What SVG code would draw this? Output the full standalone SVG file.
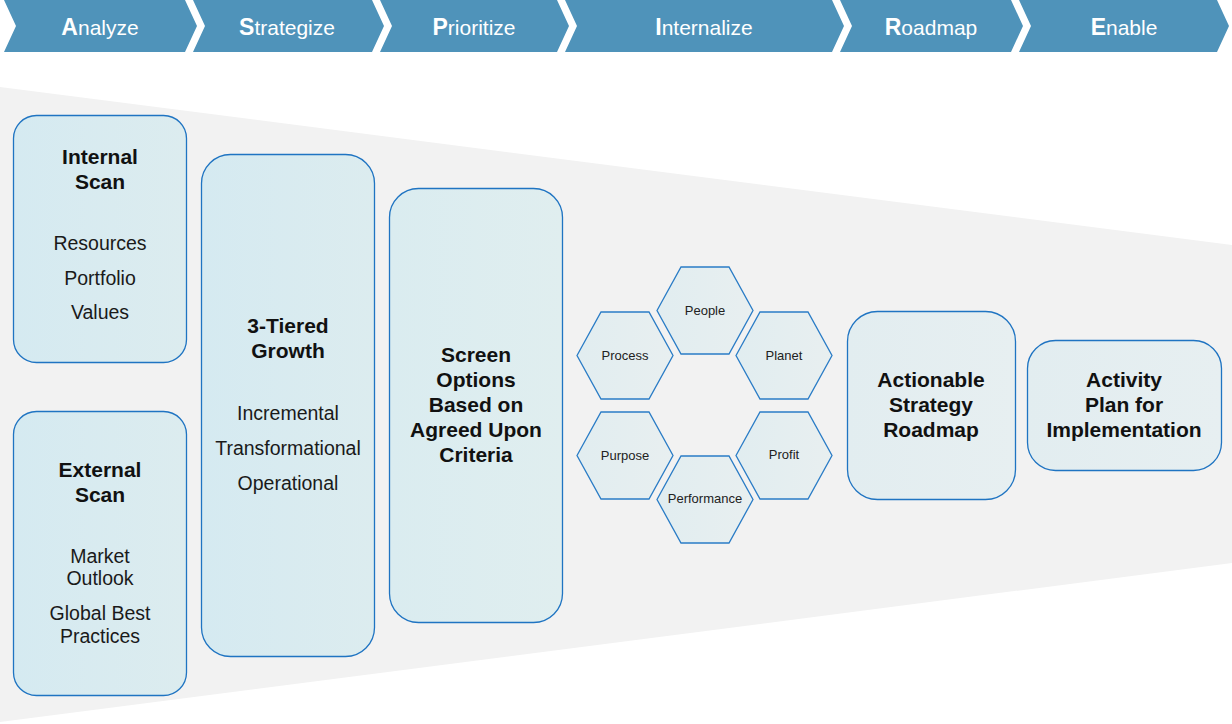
<svg xmlns="http://www.w3.org/2000/svg" width="1232" height="724" viewBox="0 0 1232 724">
<defs>
<linearGradient id="gBlue" x1="0" y1="0" x2="1" y2="0">
<stop offset="0" stop-color="#D5EAF1"/><stop offset="1" stop-color="#DCECEF"/>
</linearGradient>
<linearGradient id="gMid" x1="0" y1="0" x2="1" y2="0">
<stop offset="0" stop-color="#DAECF0"/><stop offset="1" stop-color="#E0EEEF"/>
</linearGradient>
<linearGradient id="gPale" x1="0" y1="0" x2="1" y2="0">
<stop offset="0" stop-color="#E2EDF0"/><stop offset="1" stop-color="#E7EFF1"/>
</linearGradient>
<linearGradient id="gHex" x1="0" y1="0" x2="1" y2="0">
<stop offset="0" stop-color="#E1EDF0"/><stop offset="1" stop-color="#E8EFF0"/>
</linearGradient>
<style>
.chev{fill:#4F93BA}
.hl{font-family:"Liberation Sans",Arial,sans-serif;fill:#FFFFFF;text-anchor:middle}
.hb{font-weight:bold;font-size:23px}
.hr{font-size:21px}
.box{stroke:#1F74C2;stroke-width:1.3}
.hex{fill:url(#gHex);stroke:#2A7CC6;stroke-width:1.3}
.t{font-family:"Liberation Sans",Arial,sans-serif;fill:#111111;text-anchor:middle}
.tb{font-weight:bold;font-size:21px}
.tr{font-size:19.5px;fill:#1A1A1A}
.ts{font-size:13px;fill:#222222}
</style>
</defs>
<rect width="1232" height="724" fill="#FFFFFF"/>
<polygon points="0,87 1232,245 1232,563 0,722" fill="#F2F2F2"/>

<g id="header">
<polygon class="chev" points="4,0 185,0 197,26 185,52 4,52 16,26"/>
<polygon class="chev" points="193,0 372,0 384,26 372,52 193,52 205,26"/>
<polygon class="chev" points="380,0 557,0 569,26 557,52 380,52 392,26"/>
<polygon class="chev" points="565,0 832,0 844,26 832,52 565,52 577,26"/>
<polygon class="chev" points="840,0 1011,0 1023,26 1011,52 840,52 852,26"/>
<polygon class="chev" points="1019,0 1217,0 1229,26 1217,52 1019,52 1031,26"/>
<text class="hl" x="100" y="34.5"><tspan class="hb">A</tspan><tspan class="hr">nalyze</tspan></text>
<text class="hl" x="287" y="34.5"><tspan class="hb">S</tspan><tspan class="hr">trategize</tspan></text>
<text class="hl" x="474" y="34.5"><tspan class="hb">P</tspan><tspan class="hr">rioritize</tspan></text>
<text class="hl" x="704" y="34.5"><tspan class="hb">I</tspan><tspan class="hr">nternalize</tspan></text>
<text class="hl" x="931" y="34.5"><tspan class="hb">R</tspan><tspan class="hr">oadmap</tspan></text>
<text class="hl" x="1124" y="34.5"><tspan class="hb">E</tspan><tspan class="hr">nable</tspan></text>
</g>

<g id="connectors"></g>

<g id="internal-scan">
<rect class="box" x="13.5" y="115.5" width="173" height="247" rx="23" fill="url(#gBlue)"/>
<text class="t tb" x="100" y="164">Internal</text>
<text class="t tb" x="100" y="189">Scan</text>
<text class="t tr" x="100" y="250">Resources</text>
<text class="t tr" x="100" y="284.5">Portfolio</text>
<text class="t tr" x="100" y="319">Values</text>
</g>

<g id="external-scan">
<rect class="box" x="13.5" y="411.5" width="173" height="284" rx="23" fill="url(#gBlue)"/>
<text class="t tb" x="100" y="477">External</text>
<text class="t tb" x="100" y="502">Scan</text>
<text class="t tr" x="100" y="563">Market</text>
<text class="t tr" x="100" y="585">Outlook</text>
<text class="t tr" x="100" y="620">Global Best</text>
<text class="t tr" x="100" y="643">Practices</text>
</g>

<g id="three-tiered-growth">
<rect class="box" x="201.5" y="154.5" width="173" height="502" rx="29" fill="url(#gBlue)"/>
<text class="t tb" x="288" y="333">3-Tiered</text>
<text class="t tb" x="288" y="358">Growth</text>
<text class="t tr" x="288" y="420">Incremental</text>
<text class="t tr" x="288" y="455">Transformational</text>
<text class="t tr" x="288" y="490">Operational</text>
</g>

<g id="screen-options">
<rect class="box" x="389.5" y="188.5" width="173" height="434" rx="29" fill="url(#gMid)"/>
<text class="t tb" x="476" y="362">Screen</text>
<text class="t tb" x="476" y="387">Options</text>
<text class="t tb" x="476" y="412">Based on</text>
<text class="t tb" x="476" y="437">Agreed Upon</text>
<text class="t tb" x="476" y="462">Criteria</text>
</g>

<g id="hex-people">
<polygon class="hex" points="657,310.5 681,267 729,267 753,310.5 729,354 681,354"/>
<text class="t ts" x="705" y="315">People</text>
</g>
<g id="hex-process">
<polygon class="hex" points="577,355.5 601,312 649,312 673,355.5 649,399 601,399"/>
<text class="t ts" x="625" y="360">Process</text>
</g>
<g id="hex-planet">
<polygon class="hex" points="736,355.5 760,312 808,312 832,355.5 808,399 760,399"/>
<text class="t ts" x="784" y="360">Planet</text>
</g>
<g id="hex-purpose">
<polygon class="hex" points="577,455.5 601,412 649,412 673,455.5 649,499 601,499"/>
<text class="t ts" x="625" y="460">Purpose</text>
</g>
<g id="hex-profit">
<polygon class="hex" points="736,455.5 760,412 808,412 832,455.5 808,499 760,499"/>
<text class="t ts" x="784" y="459">Profit</text>
</g>
<g id="hex-performance">
<polygon class="hex" points="657,499.5 681,456 729,456 753,499.5 729,543 681,543"/>
<text class="t ts" x="705" y="503">Performance</text>
</g>

<g id="actionable-roadmap">
<rect class="box" x="847.5" y="311.5" width="168" height="188" rx="30" fill="url(#gPale)"/>
<text class="t tb" x="931" y="387">Actionable</text>
<text class="t tb" x="931" y="412">Strategy</text>
<text class="t tb" x="931" y="437">Roadmap</text>
</g>

<g id="activity-plan">
<rect class="box" x="1027.5" y="340.5" width="194" height="130" rx="28" fill="url(#gPale)"/>
<text class="t tb" x="1124" y="387">Activity</text>
<text class="t tb" x="1124" y="412">Plan for</text>
<text class="t tb" x="1124" y="437">Implementation</text>
</g>
</svg>
